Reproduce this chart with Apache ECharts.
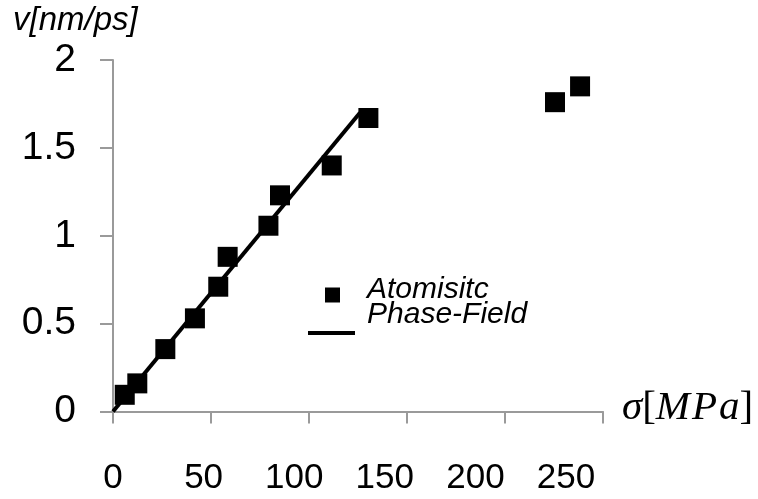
<!DOCTYPE html>
<html>
<head>
<meta charset="utf-8">
<script src="https://cdn.jsdelivr.net/npm/echarts@6/dist/echarts.min.js"></script>
<style>html,body{margin:0;padding:0;background:#fff}#c{width:758px;height:499px}</style>
</head>
<body>
<div id="c"></div>
<script>
// sigma [MPa], v [nm/ps]
const atomSigma = [6.0, 12.4, 26.7, 41.8, 53.7, 58.5, 79.3, 85.2, 111.6, 130.3, 225.5, 238.3];
const atomV     = [0.095, 0.16, 0.355, 0.53, 0.71, 0.88, 1.057, 1.23, 1.40, 1.67, 1.76, 1.85];
const pfSigma = [0, 126];
const pfV     = [0, 1.70];
const xTicks = [0, 50, 100, 150, 200, 250];
const yTicks = [0, 0.5, 1, 1.5, 2];

const chart = echarts.init(document.getElementById('c'), null, {renderer: 'canvas'});
const grey = '#9a9a9a';
const opt = {
  animation: false,
  backgroundColor: '#fff',
  grid: {left: 113, right: 155, top: 60, bottom: 87.5, containLabel: false, outerBoundsMode: 'none'},
  xAxis: [{
    type: 'value', min: 0, max: 250, interval: 50,
    name: '{i|σ}{u|[}{m|M}{m|P}{i|a}{u|]}', nameLocation: 'end', nameGap: 19,
    nameTextStyle: {
      padding: [0, 0, 6, 0],
      rich: {
        i: {fontFamily: 'Liberation Serif', fontStyle: 'italic', fontSize: 41, color: '#000'},
        m: {fontFamily: 'Liberation Serif', fontStyle: 'italic', fontSize: 41, color: '#000', padding: [0, 2, 0, 0]},
        u: {fontFamily: 'Liberation Serif', fontSize: 41, color: '#000'}
      }
    },
    axisLine: {show: true, onZero: false, lineStyle: {color: grey, width: 2}},
    axisTick: {show: true, inside: false, length: 12, lineStyle: {color: grey, width: 2}},
    axisLabel: {show: false},
    splitLine: {show: false}
  }, {
    type: 'value', min: 0, max: 270.4, position: 'bottom',
    axisLine: {show: false}, axisTick: {show: false}, splitLine: {show: false},
    axisLabel: {show: true, customValues: xTicks, margin: 49, showMinLabel: true,
      alignMinLabel: 'center', alignMaxLabel: 'center',
      fontFamily: 'Liberation Sans', fontSize: 35, color: '#000'}
  }],
  yAxis: {
    type: 'value', min: 0, max: 2, interval: 0.5,
    name: 'v[nm/ps]', nameLocation: 'end', nameGap: 23,
    nameTextStyle: {fontFamily: 'Liberation Sans', fontStyle: 'italic', fontSize: 33, color: '#000',
      align: 'left', padding: [0, 0, 0, -100]},
    axisLine: {show: true, lineStyle: {color: grey, width: 2}},
    axisTick: {show: true, inside: false, length: 13, lineStyle: {color: grey, width: 2}},
    axisLabel: {margin: 37, fontFamily: 'Liberation Sans', fontSize: 39, color: '#000',
      padding: [6, 0, 0, 0], formatter: v => String(v)},
    splitLine: {show: false}
  },
  legend: [{
    orient: 'vertical', left: 308, top: 275, padding: 0,
    itemWidth: 47, itemHeight: 25,
    data: [{name: 'Atomisitc', icon: 'path://M0,0M47,25M17,10h15v15h-15z'}],
    textStyle: {fontFamily: 'Liberation Sans', fontStyle: 'italic', fontSize: 30, color: '#000', padding: [0, 0, 0, 7]}
  }, {
    orient: 'vertical', left: 308, top: 295, padding: 0,
    itemWidth: 47, itemHeight: 40,
    data: [{name: 'Phase-Field', icon: 'path://M0,0M0,36h47v4h-47z'}],
    textStyle: {fontFamily: 'Liberation Sans', fontStyle: 'italic', fontSize: 30, color: '#000', padding: [0, 0, 0, 7]}
  }],
  series: [{
    name: 'Phase-Field', type: 'line', xAxisIndex: 0,
    data: pfSigma.map((x, i) => [x, pfV[i]]),
    symbol: 'none', lineStyle: {color: '#000', width: 4}, itemStyle: {color: '#000'}, z: 2
  }, {
    name: 'Atomisitc', type: 'scatter', xAxisIndex: 0,
    data: atomSigma.map((x, i) => [x, atomV[i]]),
    symbol: 'rect', symbolSize: 20, itemStyle: {color: '#000', opacity: 1}, z: 3
  }]
};
chart.setOption(opt);
</script>
</body>
</html>
